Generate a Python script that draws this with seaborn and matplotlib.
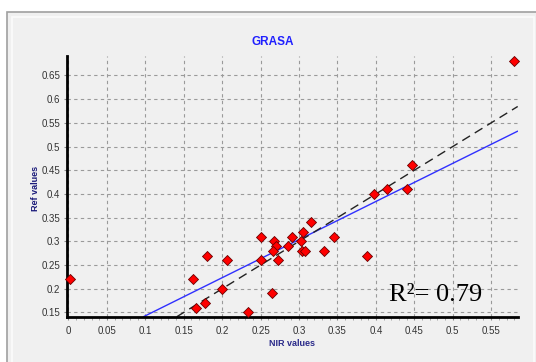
import numpy as np
import pandas as pd
import seaborn as sns
import matplotlib.pyplot as plt
from matplotlib.patches import Rectangle
from matplotlib.ticker import MultipleLocator

# NIR predicted vs reference values
nir = [0.002, 0.162, 0.180, 0.206, 0.200, 0.166, 0.178, 0.234, 0.251, 0.250,
       0.265, 0.267, 0.270, 0.266, 0.273, 0.286, 0.291, 0.302, 0.305, 0.304,
       0.308, 0.316, 0.332, 0.346, 0.388, 0.398, 0.414, 0.440, 0.447, 0.580]
ref = [0.22, 0.22, 0.27, 0.26, 0.20, 0.16, 0.17, 0.15, 0.31, 0.26,
       0.19, 0.30, 0.29, 0.28, 0.26, 0.29, 0.31, 0.30, 0.32, 0.28,
       0.28, 0.34, 0.28, 0.31, 0.27, 0.40, 0.41, 0.41, 0.46, 0.68]

fit_line = [0.0625, 0.804]   # intercept, slope of the blue fit
ideal_line = [0.0, 1.0]      # 1:1 line
r2_text = "R²= 0.79"

df = pd.DataFrame({"NIR": nir, "Ref": ref})

sns.set_style("whitegrid")
plt.rcParams['font.family'] = ['Liberation Sans', 'DejaVu Sans']

W, H = 536, 362
fig = plt.figure(figsize=(W / 100, H / 100), dpi=100)
fig.patch.set_facecolor("white")

# window-like frame
fig.patches.append(Rectangle((7 / W, -0.1), 2, 1 - 12 / H + 0.1, transform=fig.transFigure,
                             facecolor="#f0f0f0", edgecolor="#a0a0a0", lw=1.2, zorder=-10))
fig.patches.append(Rectangle((12 / W, -0.1), (534 - 12) / W, 1 - 17 / H + 0.1, transform=fig.transFigure,
                             facecolor="#f0f0f0", edgecolor="#fbfbfb", lw=1.2, zorder=-9))

ax = fig.add_axes([66.7 / W, 1 - 316.7 / H, (517.7 - 66.7) / W, (316.7 - 56) / H])
ax.set_zorder(5)
ax.set_facecolor("#f0f0f0")

ax.axline((0, fit_line[0]), slope=fit_line[1], color="#3030ff", lw=1, zorder=2)
ax.axline((0, ideal_line[0]), slope=ideal_line[1], color="#222222", lw=1,
          dashes=(6.5, 4), zorder=2)

sns.scatterplot(data=df, x="NIR", y="Ref", marker="D", s=26, color="#ff0000",
                edgecolor="#6a0000", linewidth=0.6, ax=ax, zorder=3, clip_on=False)

ax.set_xlim(-0.0023, 0.5845)
ax.set_ylim(0.141, 0.691)
ax.xaxis.set_minor_locator(MultipleLocator(0.01))
ax.set_xticks(np.arange(0, 0.56, 0.05))
ax.set_yticks(np.arange(0.15, 0.66, 0.05))
ax.set_xticklabels([f"{v:g}" for v in np.round(np.arange(0, 0.56, 0.05), 2)])
ax.set_yticklabels([f"{v:g}" for v in np.round(np.arange(0.15, 0.66, 0.05), 2)])

ax.grid(True, which="major", color="#9a9a9a", linestyle=(0, (3, 3)), lw=0.8)
ax.grid(False, which="minor")
ax.tick_params(axis="both", which="major", labelsize=7, labelcolor="#333333",
               color="#888888", length=2.5, width=0.8, direction="out",
               left=True, bottom=True)
ax.tick_params(axis="x", pad=4.5)
ax.tick_params(axis="y", pad=2)
ax.tick_params(axis="x", which="minor", length=1.8, color="#999999", width=0.6, bottom=True)

for s in ["top", "right"]:
    ax.spines[s].set_visible(False)
for s in ["left", "bottom"]:
    ax.spines[s].set_visible(True)
    ax.spines[s].set_color("black")
    ax.spines[s].set_linewidth(2)

ax.set_xlabel("")
ax.set_ylabel("")
fig.text(292 / W, 1 - 343 / H, "NIR values", ha="center", va="center",
         fontsize=6.5, fontweight="bold", color="#2a2a8a")
fig.text(35 / W, 1 - 188 / H, "Ref values", ha="center", va="center", rotation=90,
         fontsize=6.5, fontweight="bold", color="#1a1a7a")
fig.text(273 / W, 1 - 42 / H, "GRASA", ha="center", va="center",
         fontsize=8.5, fontweight="bold", color="#2020ff")

ax.text(0.417, 0.187, r2_text, family="Liberation Serif", fontsize=19,
        color="black", ha="left", va="center", zorder=4)

fig.savefig("out.png", dpi=100)
